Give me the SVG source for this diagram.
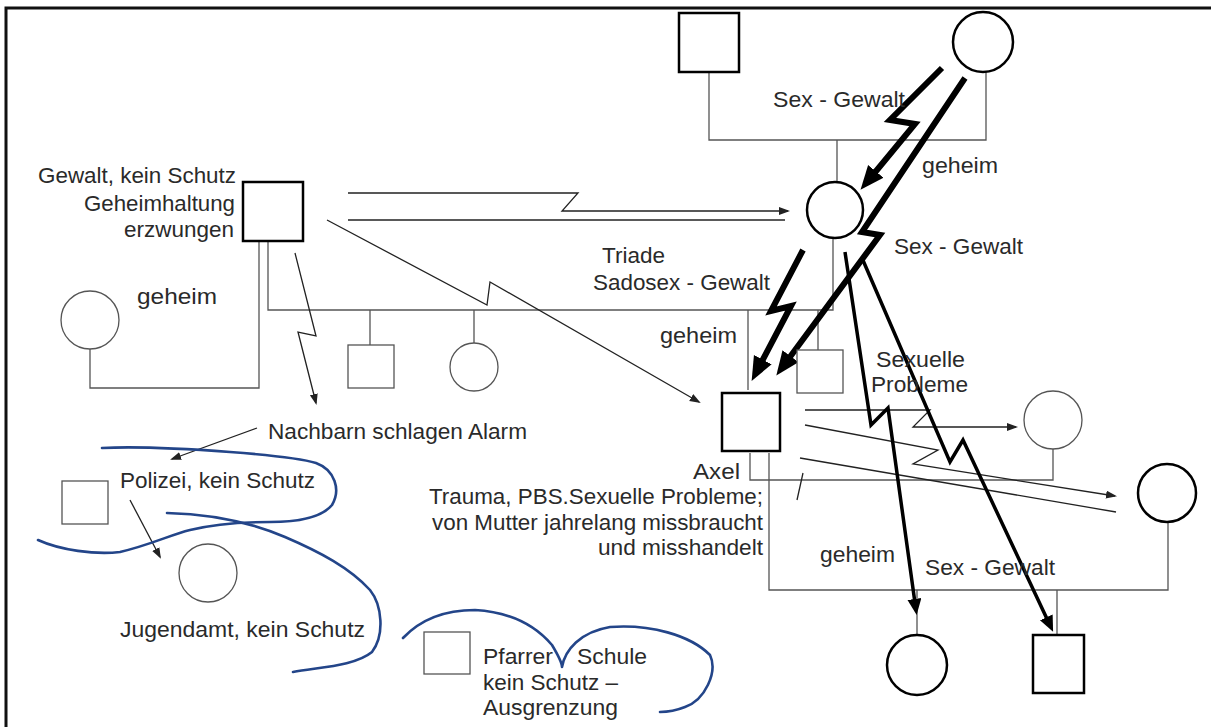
<svg xmlns="http://www.w3.org/2000/svg" width="1211" height="727" viewBox="0 0 1211 727">
<defs>
<style>
.t{font-family:"Liberation Sans",Arial,sans-serif;font-size:22px;fill:#2a2a2a}
.ln{fill:none;stroke:#555;stroke-width:1.3}
.thin{fill:none;stroke:#222;stroke-width:1.3}
.bolt{fill:none;stroke:#000;stroke-width:6;stroke-linejoin:miter}
.bolt2{fill:none;stroke:#000;stroke-width:3.5;stroke-linejoin:miter}
.n{fill:#fff;stroke:#000;stroke-width:2.5}
.nl{fill:#fff;stroke:#555;stroke-width:1.3}
.blue{fill:none;stroke:#234589;stroke-width:2.6;stroke-linecap:round;stroke-linejoin:round}
</style>
<marker id="big" markerUnits="userSpaceOnUse" markerWidth="26" markerHeight="22" refX="6" refY="10" orient="auto"><path d="M0,0 L24,10 L0,20 z" fill="#000"/></marker>
<marker id="mid" markerUnits="userSpaceOnUse" markerWidth="18" markerHeight="16" refX="4" refY="7" orient="auto"><path d="M0,0 L16,7 L0,14 z" fill="#000"/></marker>
<marker id="sm" markerUnits="userSpaceOnUse" markerWidth="14" markerHeight="10" refX="9" refY="4" orient="auto"><path d="M0,0 L11,4 L0,8 z" fill="#222"/></marker>
</defs>
<rect width="1211" height="727" fill="#fff"/>
<g id="frame"><path d="M6,727 L6,8 L1211,8" fill="none" stroke="#111" stroke-width="3"/></g>

<g id="connectors">
<path class="ln" d="M709,72 V140 H986 V72 M837,140 V182"/>
<path class="ln" d="M259,241 V388 H90 V349"/>
<path class="ln" d="M268,241 V310 H833 V238 M370,310 V345 M474,310 V343 M748,310 V390 M818,310 V350"/>
<path class="ln" d="M750,453 V480 H1053 V449"/>
<path class="ln" d="M769,453 V590 H1168 V522 M917,590 V635 M1057,590 V635"/>

<path class="thin" d="M348,193 H578 L562,211 H788" marker-end="url(#sm)"/>
<path class="thin" d="M348,220 H785"/>
<path class="thin" d="M327,220 L487,305 L490,282 L699,402" stroke-width="2.3" marker-end="url(#sm)"/>
<path class="thin" d="M295,253 L316,336 L298,332 L316,403" marker-end="url(#sm)"/>
<path class="thin" d="M257,428 L172,459" marker-end="url(#sm)"/>
<path class="thin" d="M130,500 L160,557" marker-end="url(#sm)"/>
<path class="thin" d="M805,410 H930 L913,427 H1016" marker-end="url(#sm)"/>
<path class="thin" d="M805,425 L938,450 L913,464 L1115,496" marker-end="url(#sm)"/>
<path class="thin" d="M800,458 L1116,512"/>
<path class="thin" d="M803,473 L797,500"/>

<path class="bolt" d="M942,68 L890,120 L915,124 L872,176" marker-end="url(#big)"/>
<path class="bolt" d="M965,78 L862,232 L880,235 L787,361" marker-end="url(#big)"/>
<path class="bolt" d="M803,250 L771,311 L791,306 L760,365" marker-end="url(#big)"/>
<path class="bolt2" d="M845,252 L871,425 L888,408 L915,603" marker-end="url(#mid)"/>
<path class="bolt2" d="M862,258 L950,462 L963,440 L1048,621" marker-end="url(#mid)"/>

<path class="blue" d="M102,448 C140,446 190,449 230,452 C270,455 300,458 316,463 C335,470 341,490 332,505 C322,517 300,522 270,522 C240,522 210,525 190,530 C170,535 150,545 120,552 C95,555 60,550 38,540"/>
<path class="blue" d="M167,513 C210,514 250,522 285,537 C320,552 350,568 370,590 C382,605 385,635 372,652 C355,666 320,667 293,672"/>
<path class="blue" d="M403,638 C420,620 445,610 475,610 C510,612 535,625 552,645 C558,655 562,662 562,667 C565,650 580,632 610,627 C650,624 690,635 710,655 C718,672 705,700 685,707 C675,711 665,712 660,712"/>
</g>

<g id="n-top-father"><rect class="n" x="679" y="13" width="60" height="59"/></g>
<g id="n-top-mother"><circle class="n" cx="983" cy="42" r="30" stroke-width="3"/></g>
<g id="n-mother"><circle class="n" cx="835" cy="210" r="28"/></g>
<g id="n-father"><rect class="n" x="243" y="182" width="60" height="59"/></g>
<g id="n-left-woman"><circle class="nl" cx="90" cy="320" r="29"/></g>
<g id="n-sib1"><rect class="nl" x="348" y="345" width="46" height="43"/></g>
<g id="n-sib2"><circle class="nl" cx="474" cy="367" r="24"/></g>
<g id="n-axel"><rect class="n" x="722" y="393" width="58" height="58" stroke-width="6"/></g>
<g id="n-sib4"><rect class="nl" x="797" y="350" width="46" height="43"/></g>
<g id="n-partner1"><circle class="nl" cx="1053" cy="420" r="29"/></g>
<g id="n-partner2"><circle class="n" cx="1167" cy="493" r="29" stroke-width="3"/></g>
<g id="n-daughter"><circle class="n" cx="917" cy="665" r="30" stroke-width="3"/></g>
<g id="n-son"><rect class="n" x="1033" y="635" width="51" height="58"/></g>
<g id="n-polizei"><rect class="nl" x="62" y="481" width="46" height="43"/></g>
<g id="n-jugendamt"><circle class="nl" cx="208" cy="573" r="29"/></g>
<g id="n-pfarrer"><rect class="nl" x="424" y="632" width="46" height="42"/></g>

<g id="labels">
<text class="t" x="773" y="107" textLength="132" lengthAdjust="spacingAndGlyphs">Sex - Gewalt</text>
<text class="t" x="922" y="173" textLength="76" lengthAdjust="spacingAndGlyphs">geheim</text>
<text class="t" x="894" y="254" textLength="129" lengthAdjust="spacingAndGlyphs">Sex - Gewalt</text>
<text class="t" x="38" y="183" textLength="198" lengthAdjust="spacingAndGlyphs">Gewalt, kein Schutz</text>
<text class="t" x="84" y="211" textLength="151" lengthAdjust="spacingAndGlyphs">Geheimhaltung</text>
<text class="t" x="124" y="237" textLength="110" lengthAdjust="spacingAndGlyphs">erzwungen</text>
<text class="t" x="137" y="304" textLength="80" lengthAdjust="spacingAndGlyphs">geheim</text>
<text class="t" x="602" y="263" textLength="63" lengthAdjust="spacingAndGlyphs">Triade</text>
<text class="t" x="593" y="290" textLength="177" lengthAdjust="spacingAndGlyphs">Sadosex - Gewalt</text>
<text class="t" x="660" y="343" textLength="77" lengthAdjust="spacingAndGlyphs">geheim</text>
<text class="t" x="876" y="367" textLength="89" lengthAdjust="spacingAndGlyphs">Sexuelle</text>
<text class="t" x="871" y="392" textLength="97" lengthAdjust="spacingAndGlyphs">Probleme</text>
<text class="t" x="693" y="479" textLength="47" lengthAdjust="spacingAndGlyphs">Axel</text>
<text class="t" x="429" y="504" textLength="334" lengthAdjust="spacingAndGlyphs">Trauma, PBS.Sexuelle Probleme;</text>
<text class="t" x="432" y="530" textLength="331" lengthAdjust="spacingAndGlyphs">von Mutter jahrelang missbraucht</text>
<text class="t" x="598" y="555" textLength="165" lengthAdjust="spacingAndGlyphs">und misshandelt</text>
<text class="t" x="268" y="439" textLength="259" lengthAdjust="spacingAndGlyphs">Nachbarn schlagen Alarm</text>
<text class="t" x="120" y="488" textLength="195" lengthAdjust="spacingAndGlyphs">Polizei, kein Schutz</text>
<text class="t" x="120" y="637" textLength="245" lengthAdjust="spacingAndGlyphs">Jugendamt,  kein Schutz</text>
<text class="t" x="483" y="664" textLength="70" lengthAdjust="spacingAndGlyphs">Pfarrer</text>
<text class="t" x="577" y="664" textLength="70" lengthAdjust="spacingAndGlyphs">Schule</text>
<text class="t" x="483" y="690" textLength="135" lengthAdjust="spacingAndGlyphs">kein Schutz –</text>
<text class="t" x="483" y="715" textLength="135" lengthAdjust="spacingAndGlyphs">Ausgrenzung</text>
<text class="t" x="820" y="562" textLength="75" lengthAdjust="spacingAndGlyphs">geheim</text>
<text class="t" x="925" y="575" textLength="130" lengthAdjust="spacingAndGlyphs">Sex - Gewalt</text>
</g>
</svg>
